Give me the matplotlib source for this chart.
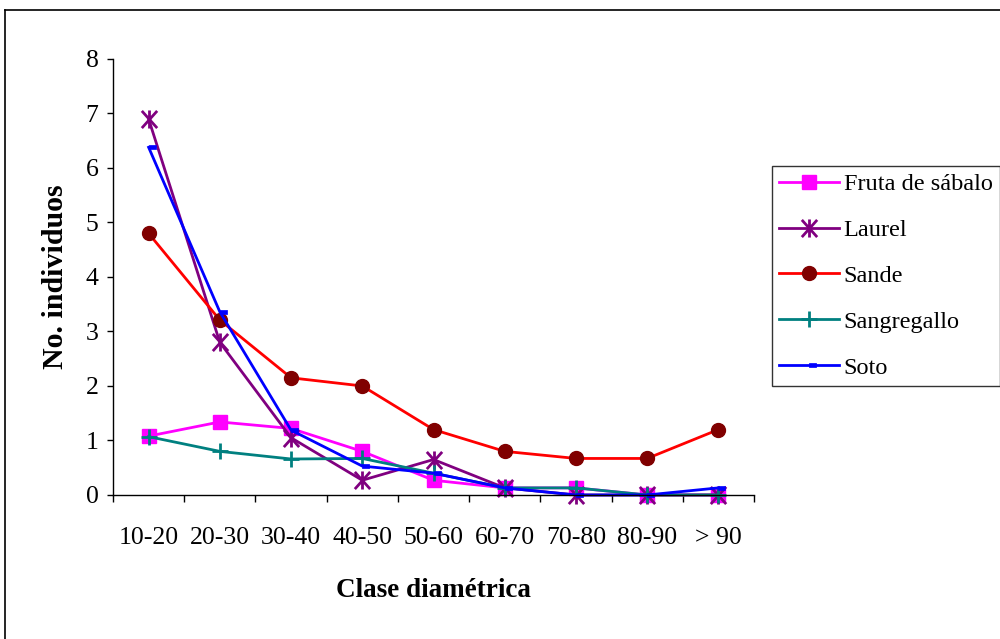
import matplotlib
matplotlib.use('Agg')
from matplotlib import pyplot as plt
from matplotlib.path import Path
from matplotlib.lines import Line2D

clases = ['10-20', '20-30', '30-40', '40-50', '50-60', '60-70', '70-80', '80-90', '> 90']
fruta = [1.08, 1.34, 1.22, 0.8, 0.27, 0.13, 0.13, 0.0, 0.0]
laurel = [6.9, 2.8, 1.05, 0.27, 0.65, 0.13, 0.0, 0.0, 0.0]
sande = [4.8, 3.21, 2.15, 2.0, 1.2, 0.8, 0.67, 0.67, 1.2]
sangregallo = [1.07, 0.8, 0.66, 0.67, 0.4, 0.13, 0.13, 0.0, 0.0]
soto = [6.38, 3.36, 1.19, 0.53, 0.4, 0.13, 0.0, 0.0, 0.13]

plt.rcParams['font.family'] = ['Liberation Serif', 'DejaVu Serif']

# star marker: vertical bar plus an X
star = Path([(0, -1), (0, 1), (-0.85, -0.95), (0.85, 0.95), (-0.85, 0.95), (0.85, -0.95)],
            [Path.MOVETO, Path.LINETO, Path.MOVETO, Path.LINETO, Path.MOVETO, Path.LINETO])
# small dash to the right of the point (Soto)
dash = Path([(0, -0.3), (1, -0.3), (1, 0.3), (0, 0.3), (0, -0.3)],
            [Path.MOVETO, Path.LINETO, Path.LINETO, Path.LINETO, Path.CLOSEPOLY])

fig = plt.figure(figsize=(10, 6.39), dpi=100)
ax = fig.add_axes([0.113, 0.2254, 0.641, 0.6823])

x = range(len(clases))
lw = 2.0
ax.plot(x, fruta, color='#ff00ff', lw=lw, marker='s', ms=9.5, mfc='#ff00ff', mec='#ff00ff',
        label='Fruta de sábalo', clip_on=False)
ax.plot(x, laurel, color='#800080', lw=lw, marker=star, ms=13, mec='#800080', mew=2,
        label='Laurel', clip_on=False)
ax.plot(x, sande, color='#ff0000', lw=lw, marker='o', ms=10, mfc='#800000', mec='#800000',
        label='Sande', clip_on=False)
ax.plot(x, sangregallo, color='#008080', lw=lw, marker='+', ms=12, mew=2, mec='#008080',
        label='Sangregallo', clip_on=False)
ax.plot(x, soto, color='#0000ff', lw=lw, marker=dash, ms=10, mfc='#0000ff', mec='#0000ff',
        mew=0.5, label='Soto', clip_on=False)

ax.set_xlim(-0.5, len(clases) - 0.5)
ax.set_ylim(0, 8)
ax.spines['top'].set_visible(False)
ax.spines['right'].set_visible(False)
ax.spines['left'].set_linewidth(1.0)
ax.spines['bottom'].set_linewidth(1.0)

ax.set_xticks(list(x))
ax.set_xticklabels(clases)
ax.set_xticks([i - 0.5 for i in range(len(clases) + 1)], minor=True)
ax.tick_params(axis='x', which='major', length=0, pad=23, labelsize=18.5)
ax.tick_params(axis='x', which='minor', length=5, width=1, direction='out')
ax.set_yticks(range(9))
ax.tick_params(axis='y', length=4.5, width=1, pad=6, labelsize=18.5)

ax.set_xlabel('Clase diamétrica', fontsize=19.5, fontweight='bold', labelpad=21)
ax.set_ylabel('No. individuos', fontsize=21.5, fontweight='bold', labelpad=12)

leg = fig.legend(loc='upper left', bbox_to_anchor=(0.772, 0.7403), fontsize=17.5,
                 frameon=True, fancybox=False, edgecolor='black', borderpad=0.3,
                 labelspacing=0.98, handlelength=2.45, handletextpad=0.2,
                 borderaxespad=0, numpoints=1)
leg.get_frame().set_linewidth(1.0)

# outer border of the chart area
fig.add_artist(Line2D([0.005, 0.005], [0, 1 - 10 / 639], color='black', lw=1.2,
                      transform=fig.transFigure))
fig.add_artist(Line2D([0.005, 1], [1 - 10 / 639, 1 - 10 / 639], color='black', lw=1.2,
                      transform=fig.transFigure))

fig.savefig('out.png', dpi=100)
